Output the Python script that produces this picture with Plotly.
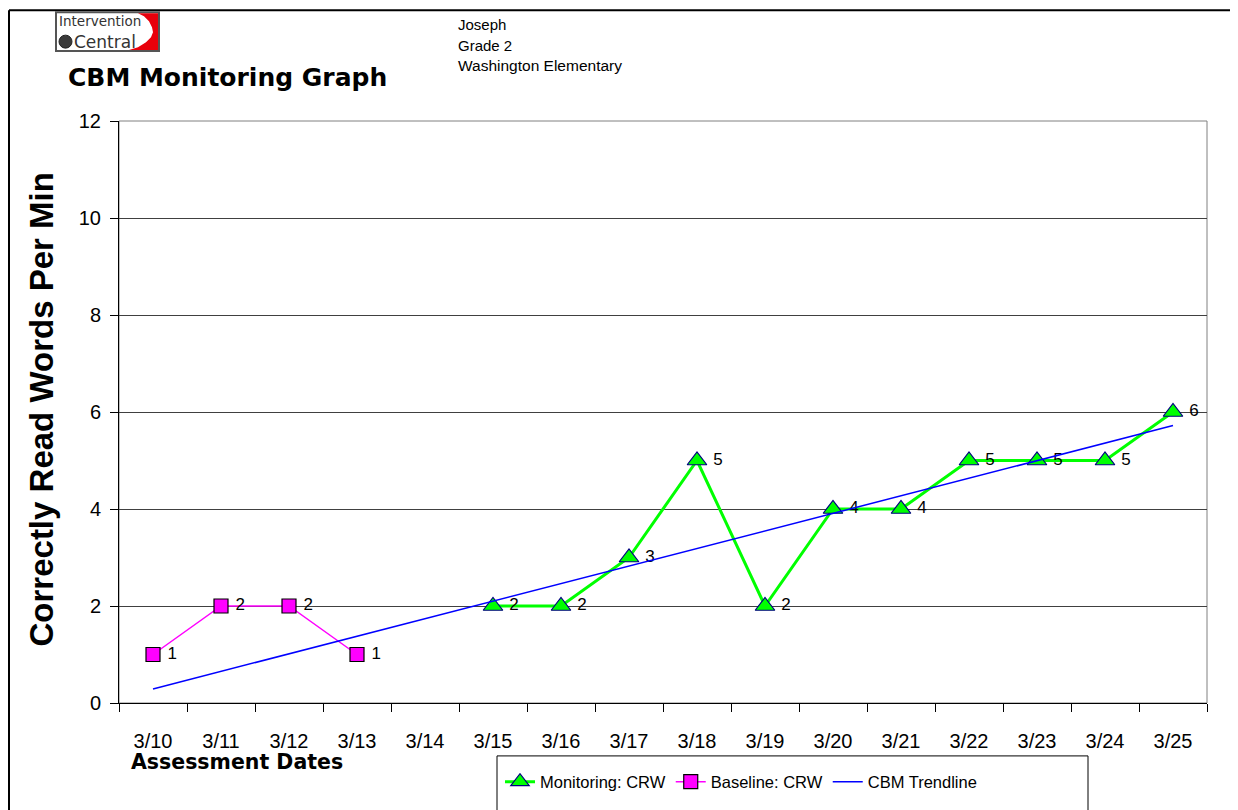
import plotly.graph_objects as go

# ---- data ----
dates = ["3/10", "3/11", "3/12", "3/13", "3/14", "3/15", "3/16", "3/17",
         "3/18", "3/19", "3/20", "3/21", "3/22", "3/23", "3/24", "3/25"]
baseline_dates = ["3/10", "3/11", "3/12", "3/13"]
baseline_vals = [1, 2, 2, 1]
monitor_dates = ["3/15", "3/16", "3/17", "3/18", "3/19", "3/20", "3/21",
                 "3/22", "3/23", "3/24", "3/25"]
monitor_vals = [2, 2, 3, 5, 2, 4, 4, 5, 5, 5, 6]
trend_dates = ["3/10", "3/25"]
trend_vals = [0.29, 5.72]
y_ticks = [0, 2, 4, 6, 8, 10, 12]

FONT = "Liberation Sans, Arial, sans-serif"
WIDE = "DejaVu Sans, sans-serif"
OFF = 8  # page body margin
W, H = 1238 - OFF, 810 - OFF
L, R, T, B = 119, 1207, 121, 704  # plot area in page pixels


def px(x):
    return (x - L) / (R - L)


def py(y):
    return (B - y) / (B - T)


NB = "\u00a0"

fig = go.Figure()

fig.add_trace(go.Scatter(
    x=monitor_dates, y=monitor_vals, name="Monitoring: CRW",
    mode="lines+markers+text", text=[NB + str(v) for v in monitor_vals],
    textposition="middle right", textfont=dict(size=17, color="black", family=FONT),
    line=dict(color="#00FF00", width=3),
    marker=dict(symbol="triangle-up", size=17, color="#00FF00",
                line=dict(color="#000080", width=1.2)),
))
fig.add_trace(go.Scatter(
    x=baseline_dates, y=baseline_vals, name="Baseline: CRW",
    mode="lines+markers+text", text=[NB + str(v) for v in baseline_vals],
    textposition="middle right", textfont=dict(size=17, color="black", family=FONT),
    line=dict(color="#FF00FF", width=1.5),
    marker=dict(symbol="square", size=14, color="#FF00FF",
                line=dict(color="black", width=1.2)),
))
fig.add_trace(go.Scatter(
    x=trend_dates, y=trend_vals, name="CBM Trendline",
    mode="lines", line=dict(color="#0000FF", width=1.5),
))

shapes = []
# plot area border (gray)
shapes.append(dict(type="rect", xref="paper", yref="paper", x0=0, x1=1, y0=0, y1=1,
                   line=dict(color="#808080", width=1), layer="below"))
# outer frame
for (x0, y0, x1, y1) in [(9, 10, 1236, 10), (9, 10, 9, 812), (1236, 10, 1236, 812)]:
    shapes.append(dict(type="line", xref="paper", yref="paper",
                       x0=px(x0), y0=py(y0), x1=px(x1), y1=py(y1),
                       line=dict(color="black", width=2)))
# legend box
shapes.append(dict(type="rect", xref="paper", yref="paper",
                   x0=px(497), x1=px(1088), y0=py(757), y1=py(815),
                   line=dict(color="black", width=1), fillcolor="white", layer="below"))

# logo
shapes.append(dict(type="rect", xref="paper", yref="paper",
                   x0=px(56), x1=px(159), y0=py(12), y1=py(51),
                   line=dict(color="#555555", width=2), fillcolor="white"))
red_pts = [(138, 13), (158, 13), (158, 50), (129, 50), (138, 47), (146, 42),
           (151, 37), (153, 32), (152, 27), (149, 21), (144, 16)]
path = "M " + " L ".join(f"{px(x):.5f},{py(y):.5f}" for x, y in red_pts) + " Z"
shapes.append(dict(type="path", xref="paper", yref="paper", path=path,
                   fillcolor="#E8000B", line=dict(width=0)))
shapes.append(dict(type="circle", xref="paper", yref="paper",
                   x0=px(59), x1=px(72), y0=py(35), y1=py(48),
                   fillcolor="#3a3a3a", line=dict(color="#222", width=1)))

annotations = [
    dict(text="Intervention", x=px(57), y=py(21), xref="paper", yref="paper",
         xanchor="left", yanchor="middle", showarrow=False,
         font=dict(size=13.5, color="#333333", family=WIDE)),
    dict(text="Central", x=px(72), y=py(42), xref="paper", yref="paper",
         xanchor="left", yanchor="middle", showarrow=False,
         font=dict(size=17, color="#333333", family=WIDE)),
    dict(text="<b>CBM Monitoring Graph</b>", x=px(66), y=py(77), xref="paper", yref="paper",
         xanchor="left", yanchor="middle", showarrow=False,
         font=dict(size=25, color="black", family=WIDE)),
    dict(text="Joseph", x=px(456), y=py(24), xref="paper", yref="paper",
         xanchor="left", yanchor="middle", showarrow=False,
         font=dict(size=15, color="black", family=FONT)),
    dict(text="Grade 2", x=px(456), y=py(45), xref="paper", yref="paper",
         xanchor="left", yanchor="middle", showarrow=False,
         font=dict(size=15, color="black", family=FONT)),
    dict(text="Washington Elementary", x=px(456), y=py(65), xref="paper", yref="paper",
         xanchor="left", yanchor="middle", showarrow=False,
         font=dict(size=15.5, color="black", family=FONT)),
    dict(text="<b>Assessment Dates</b>", x=px(129), y=py(763), xref="paper", yref="paper",
         xanchor="left", yanchor="middle", showarrow=False,
         font=dict(size=20.5, color="black", family=WIDE)),
    dict(text="<b>Correctly Read Words Per Min</b>", x=px(42), y=py(410), xref="paper",
         yref="paper", xanchor="center", yanchor="middle", showarrow=False, textangle=-90,
         font=dict(size=33, color="black", family=FONT)),
]

fig.update_layout(
    width=W, height=H,
    margin=dict(l=L - OFF, r=W - (R - OFF), t=T - OFF, b=H - (B - OFF), pad=0),
    paper_bgcolor="white", plot_bgcolor="white",
    font=dict(family=FONT, color="black"),
    showlegend=True,
    legend=dict(orientation="h", x=px(500), y=py(782), xanchor="left", yanchor="middle",
                bgcolor="rgba(0,0,0,0)", font=dict(size=16.5, family=FONT, color="black"),
                itemwidth=30, tracegroupgap=0),
    shapes=shapes,
    annotations=annotations,
    xaxis=dict(type="category", categoryorder="array", categoryarray=dates,
               tickvals=dates, range=[-0.5, 15.5], tickson="boundaries",
               ticks="outside", ticklen=8, tickcolor="black", showline=True,
               linecolor="black", linewidth=1, showgrid=False, zeroline=False,
               tickfont=dict(size=20, family=FONT, color="black"),
               ticklabelstandoff=20),
    yaxis=dict(range=[0, 12], tickvals=y_ticks, ticks="outside", ticklen=8,
               tickcolor="black", showline=True, linecolor="black", linewidth=1,
               showgrid=True, gridcolor="#404040", gridwidth=1, zeroline=False,
               tickfont=dict(size=20, family=FONT, color="black"),
               ticklabelstandoff=5),
)

fig.write_html("out.html")
